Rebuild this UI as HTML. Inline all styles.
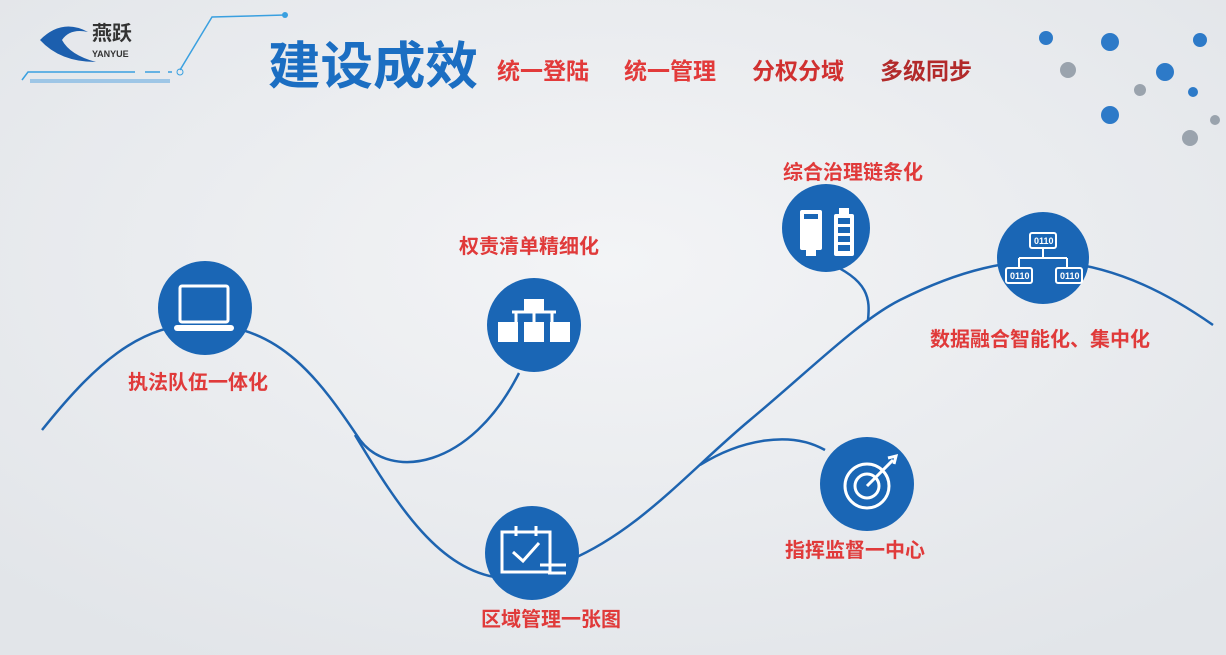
<!DOCTYPE html>
<html><head><meta charset="utf-8"><style>
body{margin:0;width:1226px;height:655px;overflow:hidden;background:#eceef1;font-family:"Liberation Sans","Noto Sans CJK SC",sans-serif}
svg{position:absolute;left:0;top:0}
text{font-family:"Liberation Sans","Noto Sans CJK SC",sans-serif;font-weight:bold}
</style></head><body>
<svg width="1226" height="655" viewBox="0 0 1226 655">
<defs><radialGradient id="bg" cx="0.5" cy="0.4" r="0.7"><stop offset="0" stop-color="#f3f4f6"/><stop offset="1" stop-color="#e2e5e9"/></radialGradient></defs>
<rect width="1226" height="655" fill="url(#bg)"/>
<path d="M40 40 Q62 18 88 32 Q70 28 62 40 Q70 55 96 62 Q60 62 40 40Z" fill="#1c5fae"/>
<text x="92" y="40" font-size="20" font-weight="normal" fill="#333">燕跃</text>
<text x="92" y="57" font-size="9" fill="#333">YANYUE</text>
<path d="M22 80 L28 72 L135 72" stroke="#3aa0e0" stroke-width="1.5" fill="none"/>
<path d="M145 72 L160 72 M168 72 L172 72" stroke="#3aa0e0" stroke-width="1.5"/>
<rect x="30" y="79" width="140" height="4" fill="#9ec6e6"/>
<path d="M180 70 L212 17 L285 15" stroke="#3aa0e0" stroke-width="1.5" fill="none"/>
<circle cx="285" cy="15" r="3" fill="#3aa0e0"/>
<circle cx="180" cy="72" r="3" fill="none" stroke="#3aa0e0"/>
<text x="268" y="84" font-size="51" fill="#1b6ec2" textLength="210" lengthAdjust="spacingAndGlyphs">建设成效</text>
<text x="497" y="79" font-size="23" fill="#e23a3a">统一登陆</text>
<text x="624" y="79" font-size="23" fill="#e23a3a">统一管理</text>
<text x="752" y="79" font-size="23" fill="#d03030">分权分域</text>
<text x="880" y="79" font-size="23" fill="#b22a2a">多级同步</text>
<g fill="#2d7ac8"><circle cx="1110" cy="42" r="9"/><circle cx="1165" cy="72" r="9"/><circle cx="1110" cy="115" r="9"/><circle cx="1046" cy="38" r="7"/><circle cx="1200" cy="40" r="7"/><circle cx="1193" cy="92" r="5"/></g>
<g fill="#9aa3ad"><circle cx="1068" cy="70" r="8"/><circle cx="1190" cy="138" r="8"/><circle cx="1140" cy="90" r="6"/><circle cx="1215" cy="120" r="5"/></g>
<g stroke="#1e64b0" stroke-width="2.5" fill="none">
<path d="M42 430 C90 370 140 320 205 325 C280 325 320 380 360 440 C390 480 470 470 519 373"/>
<path d="M355 435 C400 510 440 570 500 578"/>
<path d="M570 560 C640 530 690 470 750 420 C810 370 860 320 900 300 C960 270 1010 258 1060 262 C1120 268 1170 295 1213 325"/>
<path d="M700 465 C740 440 790 430 825 450"/>
<path d="M826 262 C870 280 870 300 868 320"/>
</g>
<g fill="#1a66b5">
<circle cx="205" cy="308" r="47"/><circle cx="534" cy="325" r="47"/><circle cx="532" cy="553" r="47"/>
<circle cx="826" cy="228" r="44"/><circle cx="1043" cy="258" r="46"/><circle cx="867" cy="484" r="47"/>
</g>
<g fill="none" stroke="#fff" stroke-width="3">
<rect x="180" y="286" width="48" height="36" rx="2"/>
<rect x="502" y="532" width="48" height="40"/>
<path d="M516 526v10M536 526v10"/>
<path d="M513 552l10 9 16-18"/>
<path d="M540 565h26M548 573h18"/>
<path d="M512 312h44M516 312v10M534 300v22M552 312v10"/>
<circle cx="867" cy="486" r="22"/><circle cx="867" cy="486" r="12"/>
<path d="M867 486l26-26M888 458l8-2-2 8"/>
<path d="M1043 248v10M1019 258h48M1019 258v10M1067 258v10" stroke-width="2"/>
<rect x="1030" y="233" width="26" height="15" rx="2" stroke-width="2"/>
<rect x="1006" y="268" width="26" height="15" rx="2" stroke-width="2"/>
<rect x="1056" y="268" width="26" height="15" rx="2" stroke-width="2"/>
</g>
<g fill="#fff">
<rect x="174" y="325" width="60" height="6" rx="3"/>
<rect x="524" y="299" width="20" height="14"/>
<rect x="498" y="322" width="20" height="20"/><rect x="524" y="322" width="20" height="20"/><rect x="550" y="322" width="20" height="20"/>
<rect x="800" y="210" width="22" height="40" rx="2"/><rect x="806" y="250" width="10" height="6"/>
<rect x="834" y="214" width="20" height="42" rx="2"/><rect x="839" y="208" width="10" height="6"/>
</g>
<g fill="#1a66b5"><rect x="804" y="214" width="14" height="5"/><rect x="838" y="218" width="12" height="6"/><rect x="838" y="227" width="12" height="6"/><rect x="838" y="236" width="12" height="6"/><rect x="838" y="245" width="12" height="6"/></g>
<g fill="#fff" font-size="9" font-weight="normal"><text x="1034" y="244">0110</text><text x="1010" y="279">0110</text><text x="1060" y="279">0110</text></g>
<g font-size="20" fill="#e03a3a">
<text x="128" y="389">执法队伍一体化</text>
<text x="459" y="253">权责清单精细化</text>
<text x="783" y="179">综合治理链条化</text>
<text x="930" y="346">数据融合智能化、集中化</text>
<text x="785" y="557">指挥监督一中心</text>
<text x="481" y="626">区域管理一张图</text>
</g>
</svg>
</body></html>
